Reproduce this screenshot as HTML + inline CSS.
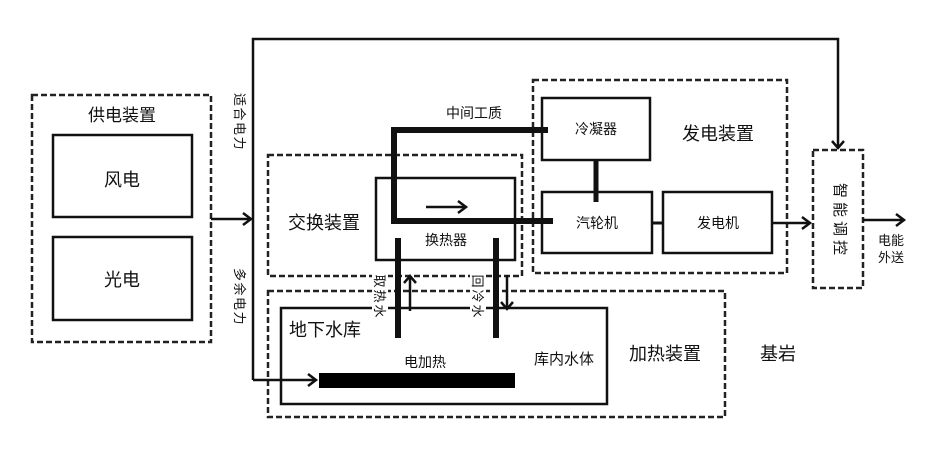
<!DOCTYPE html>
<html><head><meta charset="utf-8"><style>
html,body{margin:0;padding:0;background:#fff;}
svg{display:block;}
text{font-family:"Liberation Sans","Noto Sans CJK SC","WenQuanYi Zen Hei",sans-serif;fill:#111;}
</style></head><body>
<svg width="925" height="450" viewBox="0 0 925 450" xmlns="http://www.w3.org/2000/svg">
<rect width="925" height="450" fill="#fff"/>
<g fill="none" stroke="#222" stroke-width="2.5" stroke-dasharray="6 3">
  <rect x="32" y="95" width="179" height="247"/>
  <rect x="268" y="155" width="254" height="121"/>
  <rect x="533" y="80" width="254" height="193"/>
  <rect x="268" y="291" width="457" height="126"/>
  <rect x="813" y="150" width="50" height="138"/>
</g>
<g fill="none" stroke="#111" stroke-width="2.5">
  <rect x="53" y="135" width="139" height="82"/>
  <rect x="53" y="237" width="139" height="83"/>
  <rect x="376" y="178" width="139" height="82"/>
  <rect x="542" y="98" width="108" height="62"/>
  <rect x="542" y="192" width="110" height="61"/>
  <rect x="663" y="192" width="109" height="61"/>
  <rect x="281" y="308" width="326" height="96"/>
</g>
<!-- connectors -->
<g fill="none" stroke="#111" stroke-width="2.5">
  <polyline points="253,380 253,39 838,39 838,146"/>
  <line x1="211" y1="219" x2="251" y2="219"/>
  <line x1="253" y1="380" x2="316" y2="380"/>
  <line x1="772" y1="223" x2="810" y2="223"/>
  <line x1="863" y1="220" x2="904" y2="220"/>
  <line x1="410" y1="311" x2="410" y2="277"/>
  <line x1="507" y1="275" x2="507" y2="309"/>
  <line x1="426" y1="207" x2="466" y2="207"/>
</g>
<g fill="none" stroke="#111" stroke-width="2.5" stroke-linejoin="miter">
  <polyline points="243,213 251,219 243,225"/>
  <polyline points="308,374 316,380 308,386"/>
  <polyline points="802,217 810,223 802,229"/>
  <polyline points="896,214 904,220 896,226"/>
  <polyline points="832,141 838,148 844,141"/>
  <polyline points="404,283 410,276 416,283"/>
  <polyline points="501,302 507,309 513,302"/>
  <polyline points="458,201 466,207 458,213"/>
</g>
<!-- thick lines -->
<polyline points="548,130 394,130 394,221 553,221" fill="none" stroke="#111" stroke-width="6"/>
<line x1="596" y1="160" x2="596" y2="202" stroke="#111" stroke-width="5"/>
<line x1="652" y1="223" x2="663" y2="223" stroke="#111" stroke-width="3"/>
<line x1="398" y1="238" x2="398" y2="338" stroke="#111" stroke-width="6"/>
<line x1="496" y1="238" x2="496" y2="338" stroke="#111" stroke-width="6"/>
<rect x="319" y="373" width="196" height="15" fill="#000"/>
<!-- label backgrounds -->
<rect x="372" y="272" width="16" height="50" fill="#fff"/>
<rect x="470" y="272" width="16" height="50" fill="#fff"/>
<rect x="231" y="90" width="17" height="64" fill="#fff"/>
<rect x="231" y="265" width="17" height="64" fill="#fff"/>
<!-- text -->
<g text-anchor="middle">
  <text x="122" y="121" font-size="17">供电装置</text>
  <text x="122" y="186" font-size="18">风电</text>
  <text x="122" y="286" font-size="18">光电</text>
  <text x="324" y="229" font-size="18">交换装置</text>
  <text x="474" y="118" font-size="14">中间工质</text>
  <text x="446" y="245" font-size="14">换热器</text>
  <text x="596" y="134" font-size="14">冷凝器</text>
  <text x="597" y="228" font-size="14">汽轮机</text>
  <text x="718" y="228" font-size="14">发电机</text>
  <text x="718" y="140" font-size="18">发电装置</text>
  <text x="325" y="336" font-size="18">地下水库</text>
  <text x="425" y="367" font-size="14">电加热</text>
  <text x="564" y="364" font-size="15">库内水体</text>
  <text x="665" y="360" font-size="18">加热装置</text>
  <text x="778" y="360" font-size="18">基岩</text>
  <text x="891" y="245" font-size="13">电能</text>
  <text x="891" y="262" font-size="13">外送</text>
  <text transform="translate(235,122) rotate(90)" font-size="13" letter-spacing="1.5">适合电力</text>
  <text transform="translate(235,297) rotate(90)" font-size="13" letter-spacing="1.5">多余电力</text>
  <text transform="translate(375,297) rotate(90)" font-size="13" letter-spacing="2">取热水</text>
  <text transform="translate(473,297) rotate(90)" font-size="13" letter-spacing="2">回冷水</text>
  <text transform="translate(835,221) rotate(90)" font-size="15" letter-spacing="4">智能调控</text>
</g>
</svg>
</body></html>
